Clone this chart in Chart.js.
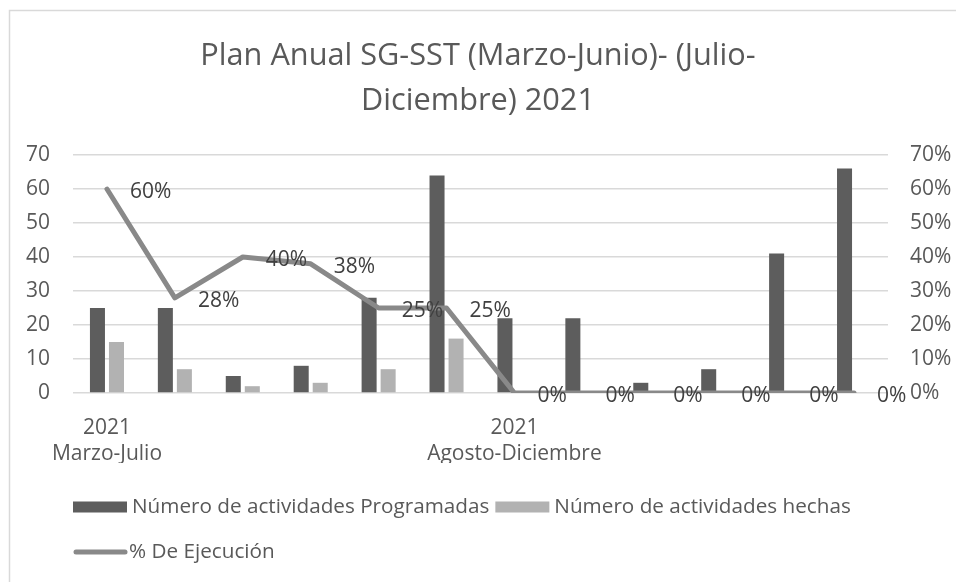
<!DOCTYPE html>
<html>
<head>
<meta charset="utf-8">
<script src="https://cdn.jsdelivr.net/npm/chart.js@4.4.1/dist/chart.umd.min.js"></script>
<style>
	html, body { margin: 0; padding: 0; background: #fff; overflow: hidden; }
	#wrap { width: 956px; height: 582px; }
</style>
</head>
<body>
<div id="wrap"><canvas id="chart"></canvas></div>
<script>
// data
const categories = [['2021', 'Marzo-Julio'], '', '', '', '', '', ['2021', 'Agosto-Diciembre'], '', '', '', '', ''];
const programadas = [25, 25, 5, 8, 28, 64, 22, 22, 3, 7, 41, 66];
const hechas = [15, 7, 2, 3, 7, 16, 0, 0, 0, 0, 0, 0];
const ejecucion = [60, 28, 40, 38, 25, 25, 0, 0, 0, 0, 0, 0];
const titleLines = ['Plan Anual SG-SST (Marzo-Junio)- (Julio-', 'Diciembre) 2021'];

const textColor = '#595959';
const darkBar = '#5d5d5d';
const lightBar = '#b2b2b2';
const lineColor = '#898989';

Chart.defaults.font.family = "'Open Sans', sans-serif";
Chart.defaults.color = textColor;

// grey frame of the chart object (runs off the right and bottom edge)
const frame = {
	id: 'frame',
	beforeDraw(chart) {
		const ctx = chart.ctx;
		ctx.save();
		ctx.fillStyle = '#fff';
		ctx.fillRect(0, 0, chart.width, chart.height);
		ctx.strokeStyle = '#d9d9d9';
		ctx.lineWidth = 1.5;
		ctx.strokeRect(9.5, 10.5, chart.width + 40, chart.height + 40);
		ctx.restore();
	}
};

// "60%" style labels to the right of each line point
const pctLabels = {
	id: 'pctLabels',
	afterDatasetsDraw(chart) {
		const ctx = chart.ctx;
		const meta = chart.getDatasetMeta(0);
		ctx.save();
		ctx.font = "21px 'Open Sans'";
		ctx.fillStyle = '#404040';
		ctx.textAlign = 'left';
		ctx.textBaseline = 'middle';
		meta.data.forEach((pt, i) => {
			ctx.fillText(ejecucion[i] + '%', pt.x + 23, pt.y + 3);
		});
		ctx.restore();
	}
};

// legend drawn by hand: two bar keys on the first row, the line key below, left aligned
const sideLegend = {
	id: 'sideLegend',
	afterDraw(chart) {
		const ctx = chart.ctx;
		const ds = chart.data.datasets;
		ctx.save();
		ctx.font = "20.7px 'Open Sans'";
		ctx.fillStyle = textColor;
		ctx.textAlign = 'left';
		ctx.textBaseline = 'middle';

		let x = 73;
		const row1 = 507;
		[ds[1], ds[2]].forEach((d) => {
			ctx.fillStyle = d.backgroundColor;
			ctx.fillRect(x, row1 - 5.5, 54, 11);
			ctx.fillStyle = textColor;
			ctx.fillText(d.label, x + 59, row1);
			x += 59 + ctx.measureText(d.label).width + 6;
		});

		const row2 = 552;
		ctx.strokeStyle = ds[0].borderColor;
		ctx.lineWidth = 5;
		ctx.lineCap = 'round';
		ctx.beginPath();
		ctx.moveTo(76, row2);
		ctx.lineTo(125, row2);
		ctx.stroke();
		ctx.fillText(ds[0].label, 129, row2);
		ctx.restore();
	}
};

new Chart(document.getElementById('chart'), {
	type: 'bar',
	data: {
		labels: categories,
		datasets: [
			{
				type: 'line',
				label: '% De Ejecución',
				data: ejecucion,
				yAxisID: 'y1',
				borderColor: lineColor,
				borderWidth: 5,
				borderCapStyle: 'round',
				borderJoinStyle: 'round',
				pointRadius: 0,
				tension: 0,
				order: 0
			},
			{
				label: 'Número de actividades Programadas',
				data: programadas,
				yAxisID: 'y',
				backgroundColor: darkBar,
				barPercentage: 0.79,
				categoryPercentage: 0.56,
				order: 1
			},
			{
				label: 'Número de actividades hechas',
				data: hechas,
				yAxisID: 'y',
				backgroundColor: lightBar,
				barPercentage: 0.79,
				categoryPercentage: 0.56,
				order: 2
			}
		]
	},
	options: {
		responsive: true,
		maintainAspectRatio: false,
		animation: false,
		layout: {
			padding: { top: 0, left: 0, right: 0, bottom: 119 }
		},
		scales: {
			x: {
				offset: true,
				grid: { display: false, drawTicks: false },
				border: { display: false },
				ticks: {
					autoSkip: false,
					maxRotation: 0,
					padding: 22,
					color: textColor,
					font: { size: 21, lineHeight: 1.24 }
				},
				afterFit(s) { s.height = 70; }
			},
			y: {
				position: 'left',
				min: 0,
				max: 70,
				grid: { color: '#d9d9d9', lineWidth: 1.5, drawTicks: false },
				border: { display: false },
				ticks: { stepSize: 10, padding: 23, color: textColor, font: { size: 21 } },
				afterFit(s) { s.width = 73; }
			},
			y1: {
				position: 'right',
				min: 0,
				max: 70,
				grid: { display: false, drawTicks: false },
				border: { display: false },
				ticks: {
					stepSize: 10,
					padding: 22,
					color: textColor,
					font: { size: 21 },
					callback: (v) => v + '%'
				},
				afterFit(s) { s.width = 68; }
			}
		},
		plugins: {
			legend: { display: false },
			tooltip: { enabled: false },
			title: {
				display: true,
				text: titleLines,
				color: textColor,
				font: { size: 30.7, weight: 'normal', lineHeight: 1.466 },
				padding: { top: 33.5, bottom: 31.5 }
			}
		}
	},
	plugins: [frame, pctLabels, sideLegend]
});
</script>
</body>
</html>
